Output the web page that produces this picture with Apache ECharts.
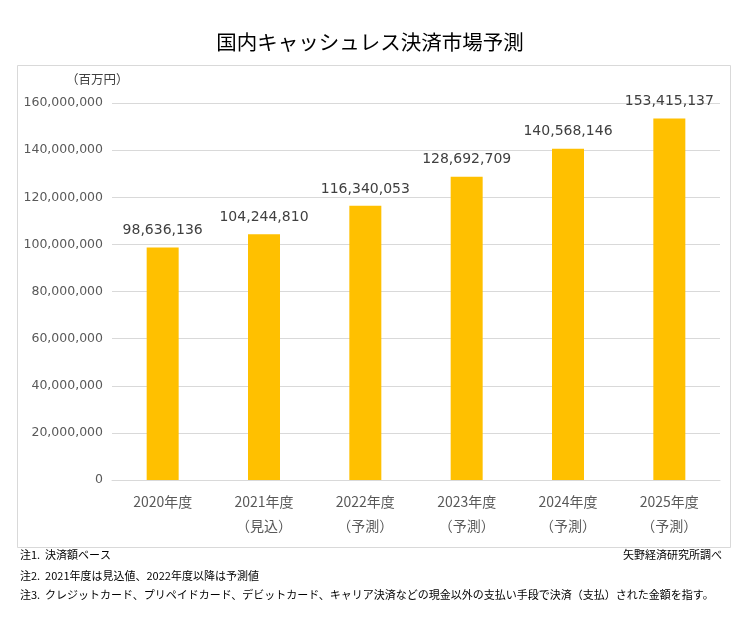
<!DOCTYPE html>
<html>
<head>
<meta charset="utf-8">
<script src="https://cdn.jsdelivr.net/npm/echarts@6/dist/echarts.min.js"></script>
<style>
  html, body { margin: 0; padding: 0; background: #fff; }
  #chart { width: 740px; height: 640px; }
</style>
</head>
<body>
<div id="chart"></div>
<script>
(function() {
  var myChart = echarts.init(document.getElementById("chart"));

  // データ
  var years = ["2020年度", "2021年度", "2022年度", "2023年度", "2024年度", "2025年度"];
  var subLabels = ["", "（見込）", "（予測）", "（予測）", "（予測）", "（予測）"];
  var values = [98636136, 104244810, 116340053, 128692709, 140568146, 153415137];
  var notes = [
    "注1.  決済額ベース",
    "注2.  2021年度は見込値、2022年度以降は予測値",
    "注3.  クレジットカード、プリペイドカード、デビットカード、キャリア決済などの現金以外の支払い手段で決済（支払）された金額を指す。"
  ];

  var jp = '"Noto Sans CJK JP", sans-serif';
  var num = '"DejaVu Sans", "Noto Sans CJK JP", sans-serif';

  var categories = years.map(function(y, i) {
    return subLabels[i] ? y + "\n" + subLabels[i] : y;
  });

  var option = {
    backgroundColor: "#fff",
    title: {
      text: "国内キャッシュレス決済市場予測",
      left: "center",
      top: 27,
      textStyle: { fontFamily: jp, fontSize: 20.5, fontWeight: "normal", color: "#000" }
    },
    grid: { left: 112, right: 20, top: 103, bottom: 160 },
    xAxis: {
      type: "category",
      data: categories,
      axisLine: { lineStyle: { color: "#d9d9d9" } },
      axisTick: { show: false },
      axisLabel: {
        margin: 10,
        fontFamily: jp,
        fontSize: 14,
        color: "#595959",
        lineHeight: 24
      }
    },
    yAxis: {
      type: "value",
      min: 0,
      max: 160000000,
      interval: 20000000,
      axisLine: { show: false },
      axisTick: { show: false },
      splitLine: { lineStyle: { color: "#d9d9d9" } },
      axisLabel: {
        margin: 9,
        fontFamily: num,
        fontSize: 12.5,
        color: "#595959",
        formatter: function(v) { return v.toLocaleString("en-US"); }
      }
    },
    series: [{
      type: "bar",
      data: values,
      barWidth: 32,
      itemStyle: { color: "#FFC000" },
      label: {
        show: true,
        position: "top",
        distance: 10,
        fontFamily: num,
        fontSize: 14,
        color: "#404040",
        formatter: function(p) { return p.value.toLocaleString("en-US"); }
      }
    }],
    graphic: [
      {
        type: "rect",
        left: 15, top: 63,
        shape: { width: 713, height: 482 },
        style: { fill: "none", stroke: "#d9d9d9", lineWidth: 1 },
        silent: true
      },
      {
        type: "text",
        left: 66, top: 73,
        style: { text: "（百万円）", font: "12.5px " + jp, fill: "#404040" }
      },
      {
        type: "text",
        left: 20, top: 549,
        style: { text: notes[0], font: "11px " + jp, fill: "#000" }
      },
      {
        type: "text",
        left: 20, top: 570,
        style: { text: notes[1], font: "11px " + jp, fill: "#000" }
      },
      {
        type: "text",
        left: 20, top: 589,
        style: { text: notes[2], font: "11px " + jp, fill: "#000" }
      },
      {
        type: "text",
        right: 18, top: 549,
        style: { text: "矢野経済研究所調べ", font: "11px " + jp, fill: "#000" }
      }
    ]
  };

  myChart.setOption(option);
  window.addEventListener("resize", function() {
    myChart.resize();
  });
})();
</script>
</body>
</html>
